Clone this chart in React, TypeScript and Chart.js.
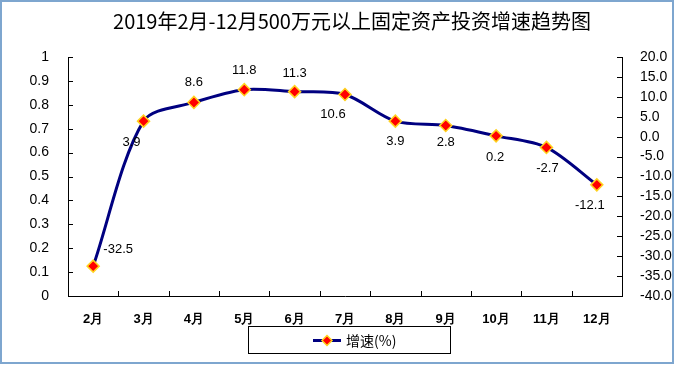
import React, { useEffect, useRef } from "react";
import { Chart, registerables } from "chart.js";

Chart.register(...registerables);

const TITLE = "2019年2月-12月500万元以上固定资产投资增速趋势图";
const months = ["2月", "3月", "4月", "5月", "6月", "7月", "8月", "9月", "10月", "11月", "12月"];
const growth = [-32.5, 3.9, 8.6, 11.8, 11.3, 10.6, 3.9, 2.8, 0.2, -2.7, -12.1];
const seriesName = "增速(%)";
// label offsets relative to point [dx, dy]
const labelOffsets: [number, number][] = [
  [25, -17], [-12, 21], [0, -20], [0, -19], [0, -18], [-12, 20], [0, 20], [0, 17], [-1, 22], [1, 21], [-7, 21],
];

const NAVY = "#000080";
const FONT = "'Liberation Sans', Arial, sans-serif";
const CJK = "'Noto Sans CJK SC', sans-serif";

const decorPlugin = {
  id: "decor",
  afterDraw(chart: any) {
    const ctx = chart.ctx;
    const area = chart.chartArea;
    ctx.save();
    // outer border
    ctx.strokeStyle = "#7ea6cf";
    ctx.lineWidth = 2;
    ctx.strokeRect(1, 1, 672, 362);
    // title
    ctx.fillStyle = "#000";
    ctx.font = `20px ${CJK}`;
    ctx.textAlign = "center";
    ctx.textBaseline = "middle";
    ctx.fillText(TITLE, 352, 21);

    // inward ticks
    ctx.strokeStyle = "#000";
    ctx.lineWidth = 1;
    const yl = chart.scales.y;
    const yr = chart.scales.y1;
    ctx.beginPath();
    yl.ticks.forEach((t: any, i: number) => {
      const y = Math.round(yl.getPixelForTick(i)) + 0.5;
      ctx.moveTo(area.left, y);
      ctx.lineTo(area.left + 5, y);
    });
    yr.ticks.forEach((t: any, i: number) => {
      const y = Math.round(yr.getPixelForTick(i)) + 0.5;
      ctx.moveTo(area.right, y);
      ctx.lineTo(area.right - 5, y);
    });
    const n = months.length;
    for (let i = 0; i <= n; i++) {
      const x = Math.round(area.left + (i * (area.right - area.left)) / n) + 0.5;
      ctx.moveTo(x, area.bottom);
      ctx.lineTo(x, area.bottom - 5);
    }
    ctx.stroke();

    // data labels
    const meta = chart.getDatasetMeta(0);
    ctx.font = `13px ${FONT}`;
    ctx.fillStyle = "#000";
    ctx.textAlign = "center";
    ctx.textBaseline = "middle";
    meta.data.forEach((pt: any, i: number) => {
      const [dx, dy] = labelOffsets[i];
      ctx.fillText(growth[i].toFixed(1), pt.x + dx, pt.y + dy);
    });

    // legend
    const lx = 248, ly = 326, lw = 202, lh = 27;
    ctx.strokeStyle = "#000";
    ctx.lineWidth = 1;
    ctx.strokeRect(lx + 0.5, ly + 0.5, lw, lh);
    const cy = ly + lh / 2 + 1;
    ctx.strokeStyle = NAVY;
    ctx.lineWidth = 3;
    ctx.beginPath();
    ctx.moveTo(313, cy);
    ctx.lineTo(341, cy);
    ctx.stroke();
    ctx.fillStyle = "#ff0000";
    ctx.strokeStyle = "#ffd21f";
    ctx.lineWidth = 1.5;
    ctx.beginPath();
    ctx.moveTo(327, cy - 5);
    ctx.lineTo(332, cy);
    ctx.lineTo(327, cy + 5);
    ctx.lineTo(322, cy);
    ctx.closePath();
    ctx.fill();
    ctx.stroke();
    ctx.fillStyle = "#000";
    ctx.textAlign = "left";
    ctx.font = `14px ${CJK}`;
    ctx.fillText(seriesName, 346, cy);
    ctx.restore();
  },
};

export default function App() {
  const ref = useRef<HTMLCanvasElement>(null);
  useEffect(() => {
    document.body.style.margin = "0";
    const chart = new Chart(ref.current!, {
      type: "line",
      data: {
        labels: months,
        datasets: [
          {
            label: seriesName,
            data: growth,
            yAxisID: "y1",
            borderColor: NAVY,
            borderWidth: 3,
            tension: 0.3,
            pointStyle: "rectRot",
            pointRadius: 6,
            pointBackgroundColor: "#ff0000",
            pointBorderColor: "#ffd21f",
            pointBorderWidth: 1.5,
          },
        ],
      },
      options: {
        animation: false,
        responsive: false,
        layout: { padding: { top: 57, left: 0, right: 0, bottom: 0 } },
        plugins: { legend: { display: false }, title: { display: false }, tooltip: { enabled: false } },
        scales: {
          x: {
            offset: true,
            grid: { display: false },
            border: { display: true, color: "#000", width: 1 },
            ticks: { color: "#000", font: { family: FONT, size: 13, weight: "bold" }, padding: 8, maxRotation: 0 },
            afterFit(s: any) { s.height = 69; },
          },
          y: {
            position: "left",
            min: 0,
            max: 1,
            grid: { display: false },
            border: { display: true, color: "#000", width: 1 },
            ticks: {
              stepSize: 0.1,
              color: "#000",
              font: { family: FONT, size: 14 },
              padding: 11,
              callback: (v: any) => String(Math.round(v * 10) / 10),
            },
            afterFit(s: any) { s.width = 68; },
          },
          y1: {
            position: "right",
            min: -40,
            max: 20,
            grid: { display: false },
            border: { display: true, color: "#000", width: 1 },
            ticks: {
              stepSize: 5,
              color: "#000",
              font: { family: FONT, size: 14 },
              padding: 10,
              callback: (v: any) => Number(v).toFixed(1),
            },
            afterFit(s: any) { s.width = 53; },
          },
        },
      },
      plugins: [decorPlugin],
    });
    return () => chart.destroy();
  }, []);
  return <canvas ref={ref} width={675} height={365} style={{ display: "block" }} />;
}
